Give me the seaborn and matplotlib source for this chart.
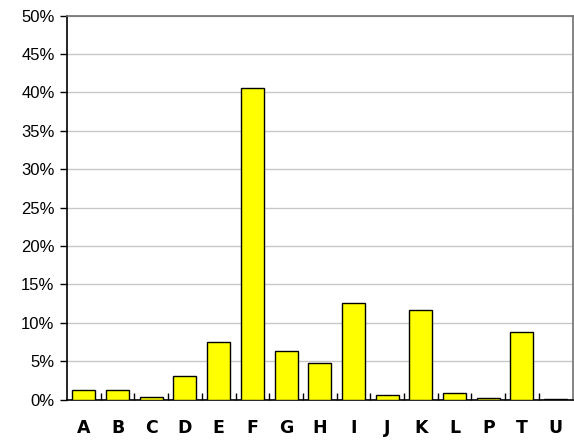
import numpy as np
import pandas as pd
import matplotlib
matplotlib.use('Agg')
import matplotlib.pyplot as plt
from matplotlib.ticker import FixedLocator, PercentFormatter
import seaborn as sns

categories = ['A', 'B', 'C', 'D', 'E', 'F', 'G', 'H', 'I', 'J', 'K', 'L', 'P', 'T', 'U']
shares = [1.3, 1.2, 0.35, 3.0, 7.55, 40.5, 6.35, 4.8, 12.6, 0.6, 11.7, 0.9, 0.2, 8.85, 0.1]

df = pd.DataFrame({'cat': categories, 'share': shares})

sns.set_style('white')
fig = plt.figure(figsize=(5.74, 4.41), dpi=100)
ax = fig.add_axes([67 / 574, 1 - 399.5 / 441, (572.5 - 67) / 574, (399.5 - 15.5) / 441])

sns.barplot(data=df, x='cat', y='share', color='#ffff00', saturation=1,
            edgecolor='black', linewidth=1, width=0.68, ax=ax, zorder=3)

ax.set_ylim(0, 50)
ax.set_xlim(-0.5, len(categories) - 0.5)
ax.set_yticks(np.arange(0, 51, 5))
ax.yaxis.set_major_formatter(PercentFormatter(decimals=0))
ax.grid(axis='y', color='#c8c8c8', linewidth=1, zorder=0)
ax.set_xlabel('')
ax.set_ylabel('')

for lbl in ax.get_yticklabels():
    lbl.set_fontfamily('Liberation Sans')
    lbl.set_fontsize(12)
ax.tick_params(axis='y', direction='out', length=5, width=1, color='black',
               labelcolor='black', pad=4, left=True)

# category labels, ticks sit between the bars
ax.set_xticks(range(len(categories)))
ax.set_xticklabels(categories, fontsize=12.5, fontweight='bold', fontfamily='DejaVu Sans')
ax.tick_params(axis='x', which='major', length=0, pad=14, labelcolor='black')
ax.xaxis.set_minor_locator(FixedLocator(np.arange(0.5, len(categories) - 0.5, 1)))
ax.tick_params(axis='x', which='minor', direction='in', length=5, width=1, color='black', bottom=True)

for side in ['left', 'bottom']:
    ax.spines[side].set_color('black')
    ax.spines[side].set_linewidth(1.2)
for side in ['top', 'right']:
    ax.spines[side].set_color('#707070')
    ax.spines[side].set_linewidth(1.2)

fig.savefig('out.png', dpi=100)
